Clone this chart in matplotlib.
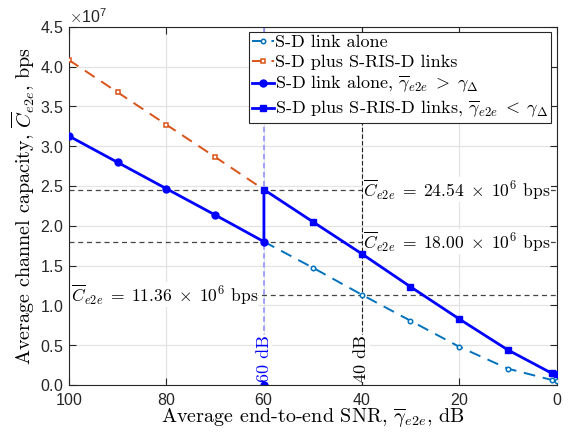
import numpy as np
import matplotlib
matplotlib.use('Agg')
import matplotlib.pyplot as plt
import matplotlib.ticker as mticker

plt.rcParams['font.family'] = ['cmr10', 'DejaVu Serif']
plt.rcParams['mathtext.fontset'] = 'cm'
plt.rcParams['axes.formatter.use_mathtext'] = True
plt.rcParams['axes.unicode_minus'] = False

# data (bps)
snr_direct = [60, 50, 40, 30, 20, 10, 1, 0]
cap_direct = [1.800e7, 1.474e7, 1.136e7, 0.808e7, 0.481e7, 0.205e7, 0.063e7, 0.055e7]

snr_ris_hi = [100, 90, 80, 70, 60]
cap_ris_hi = [4.083e7, 3.677e7, 3.270e7, 2.864e7, 2.454e7]

snr_direct_hi = [100, 90, 80, 70, 60]
cap_direct_hi = [3.128e7, 2.797e7, 2.466e7, 2.136e7, 1.800e7]

snr_ris_lo = [60, 60, 50, 40, 30, 20, 10, 1, 0]
cap_ris_lo = [1.800e7, 2.454e7, 2.051e7, 1.650e7, 1.235e7, 0.830e7, 0.440e7, 0.147e7, 0.134e7]

ref_caps = [24.54e6, 18.00e6, 11.36e6]
ref_snrs = [60, 40]

legend_labels = ['S-D link alone',
                 'S-D plus S-RIS-D links',
                 r'S-D link alone, $\overline{\gamma}_{e2e}\;>\;\gamma_{\Delta}$',
                 r'S-D plus S-RIS-D links, $\overline{\gamma}_{e2e}\;<\;\gamma_{\Delta}$']

c_mat = '#0072BD'
c_org = '#D95319'
c_blue = '#0000FF'

fig = plt.figure(figsize=(5.74, 4.37), dpi=100)
ax = fig.add_axes([0.1197, 0.119, 0.8502, 0.8199])

# reference lines
for c in ref_caps:
    ax.axhline(c, color='#444444', lw=0.9, ls=(0, (4, 3)), zorder=1)
ax.plot([ref_snrs[0]] * 2, [0, 4.5e7], color='#9a9aff', lw=1.3, ls=(0, (3, 2)),
        marker='o', ms=5, mfc=c_blue, mec=c_blue, markevery=[0], zorder=1.5)
ax.plot([ref_snrs[1]] * 2, [0, 4.5e7], color='#222222', lw=0.8, ls=(0, (4, 2)), zorder=1.5)

l1, = ax.plot(snr_direct, cap_direct, color=c_mat, lw=1.4, ls=(0, (6, 4)),
              marker='o', ms=3.2, mfc='white', mew=1.1, zorder=3)
l2, = ax.plot(snr_ris_hi, cap_ris_hi, color=c_org, lw=1.4, ls=(0, (6, 4)),
              marker='s', ms=3.2, mfc='white', mew=1.1, zorder=3)
l3, = ax.plot(snr_direct_hi, cap_direct_hi, color=c_blue, lw=2, marker='o', ms=5, zorder=4)
l4, = ax.plot(snr_ris_lo, cap_ris_lo, color=c_blue, lw=2, marker='s', ms=5,
              markevery=list(range(1, len(snr_ris_lo))), zorder=4)

bb = dict(facecolor='white', edgecolor='none', pad=0.3)
ann = r'$\overline{C}_{e2e}\;=\;%.2f\;\times\;10^{6}$ bps'
ax.text(39.7, ref_caps[0], ann % (ref_caps[0] / 1e6),
        fontsize=12.6, va='center', ha='left', bbox=bb, zorder=2)
ax.text(39.7, ref_caps[1], ann % (ref_caps[1] / 1e6),
        fontsize=12.6, va='center', ha='left', bbox=bb, zorder=2)
ax.text(99.6, ref_caps[2], ann % (ref_caps[2] / 1e6),
        fontsize=12.6, va='center', ha='left', bbox=bb, zorder=2)
ax.text(ref_snrs[0], 0.04e7, '60 dB', rotation=90, color=c_blue, fontsize=13,
        ha='center', va='bottom', bbox=bb, zorder=2)
ax.text(ref_snrs[1], 0.04e7, '40 dB', rotation=90, color='black', fontsize=13,
        ha='center', va='bottom', bbox=bb, zorder=2)

ax.set_xlim(100, 0)
ax.set_ylim(0, 4.5e7)
ax.set_xticks([100, 80, 60, 40, 20, 0])
ax.set_yticks(np.arange(0, 4.51e7, 0.5e7))
fmt = mticker.ScalarFormatter(useMathText=True)
fmt.set_powerlimits((0, 0))
ax.yaxis.set_major_formatter(fmt)

ax.grid(True, color='#e3e3e3', lw=0.9, zorder=0)
ax.set_axisbelow(True)
ax.tick_params(direction='in', top=True, right=True, length=5, width=0.8,
               colors='#262626', labelsize=11.5)
ax.tick_params(axis='x', pad=5)
for lab in ax.get_xticklabels() + ax.get_yticklabels():
    lab.set_fontfamily('Liberation Sans')
ax.yaxis.get_offset_text().set_fontfamily('Liberation Sans')
ax.yaxis.get_offset_text().set_fontsize(11.5)
for s in ax.spines.values():
    s.set_color('#262626')
    s.set_linewidth(0.8)

ax.set_xlabel(r'Average end-to-end SNR, $\overline{\gamma}_{e2e}$, dB', fontsize=14.5, labelpad=-1)
ax.set_ylabel(r'Average channel capacity, $\overline{C}_{e2e}$, bps', fontsize=14.5, labelpad=2)

leg = ax.legend([l1, l2, l3, l4], legend_labels, loc='upper right', fontsize=13,
                handlelength=1.2, handletextpad=0.1, borderpad=0.15, labelspacing=0.22,
                borderaxespad=0.3, fancybox=False, framealpha=1, edgecolor='#262626')
leg.get_frame().set_linewidth(0.8)

fig.savefig('out.png', dpi=100)
